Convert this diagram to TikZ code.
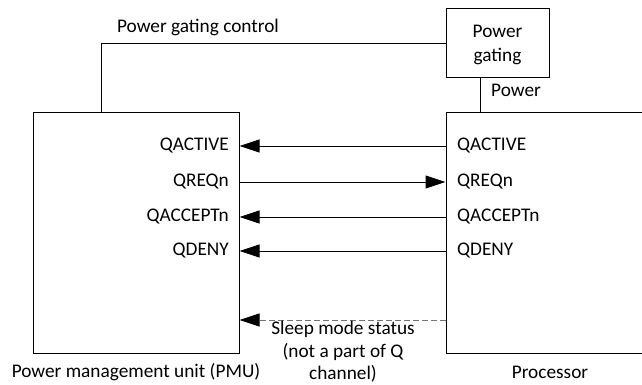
\documentclass[tikz,border=0pt]{standalone}
\usepackage{fontspec}
\setmainfont{Carlito}
\usetikzlibrary{arrows.meta}
\begin{document}
\begin{tikzpicture}[x=1pt,y=-1pt,
  every node/.style={font=\fontsize{19.3}{24}\selectfont, inner sep=0pt},
  box/.style={draw, line width=1pt},
  wire/.style={line width=1pt},
  arr/.style={line width=1pt, -{Triangle[length=20pt,width=13pt]}},
  darr/.style={line width=1pt, black!55, dash pattern=on 6pt off 3pt, -{Triangle[length=20pt,width=13pt,color=black]}},
  lbl/.style={align=center}]
\useasboundingbox (0,0) rectangle (642,385);
\clip (0,0) rectangle (642,385);
% boxes
\node[box, minimum width=206pt, minimum height=240pt] (pmu) at (136,233) {};
\node[box, minimum width=214pt, minimum height=240pt] (proc) at (553,233) {};
\node[box, minimum width=103pt, minimum height=69pt] (pg) at (497.5,43.5) {};
\node[lbl] (pgtext) at (497.5,45) {Power\\gating};
% box captions
\node (pmucap) at (136,372) {Power management unit (PMU)};
\node (proccap) at (550,372) {Processor};
% power gating control
\coordinate (ctl) at (101,113);
\draw[wire] (pg.west) -| (ctl);
\node (ctltext) at (198,27) {Power gating control};
% power
\coordinate (pwtop) at (480,78);
\coordinate (pwbot) at (480,113);
\draw[wire] (pwtop) -- (pwbot);
\node[anchor=west] (pwtext) at (491,90) {Power};
% PMU signal labels
\node[anchor=east] (la) at (229,146) {QACTIVE};
\node[anchor=east] (lr) at (229,182) {QREQn};
\node[anchor=east] (lc) at (229,217) {QACCEPTn};
\node[anchor=east] (ld) at (229,251) {QDENY};
% Processor signal labels
\node[anchor=west] (ra) at (457,146) {QACTIVE};
\node[anchor=west] (rr) at (457,182) {QREQn};
\node[anchor=west] (rc) at (457,217) {QACCEPTn};
\node[anchor=west] (rd) at (457,251) {QDENY};
% Q channel arrows
\draw[arr] (ra.west -| proc.west) -- (la.east -| pmu.east);
\draw[arr] (lr.east -| pmu.east) -- (rr.west -| proc.west);
\draw[arr] (rc.west -| proc.west) -- (lc.east -| pmu.east);
\draw[arr] (rd.west -| proc.west) -- (ld.east -| pmu.east);
% sleep mode status
\coordinate (sl) at (446,320);
\coordinate (sr) at (239,320);
\draw[darr] (sl -| proc.west) -- (sr -| pmu.east);
\node[lbl, font=\fontsize{19.3}{22.5}\selectfont] (sleep) at (343,352) {Sleep mode status\\(not a part of Q\\channel)};
\end{tikzpicture}
\end{document}
